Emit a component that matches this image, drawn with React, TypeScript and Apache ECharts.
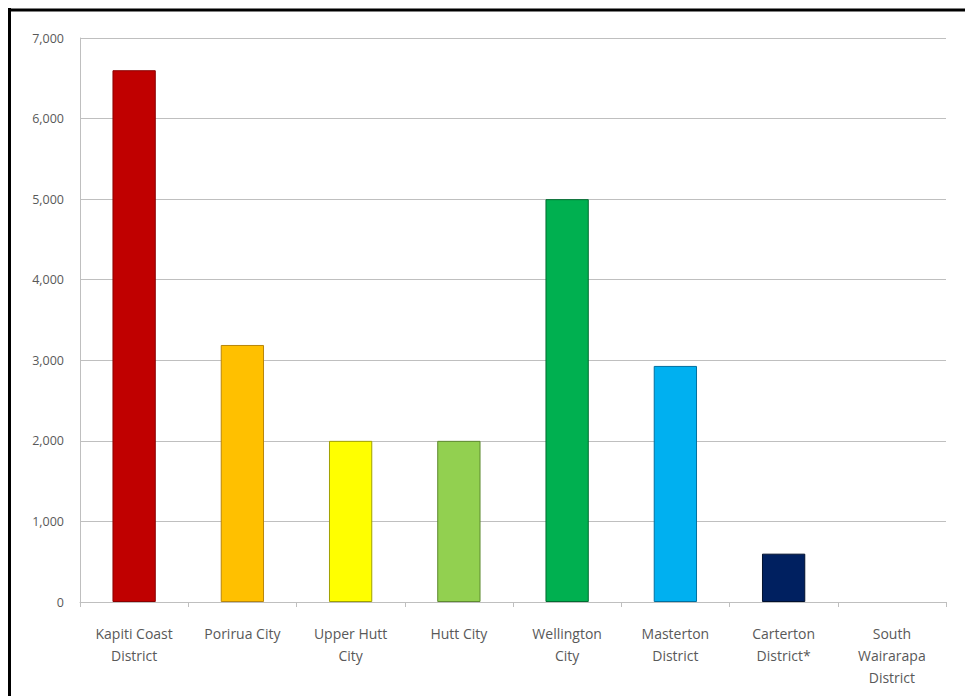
import React, { useEffect, useRef } from "react";
import * as echarts from "echarts";

const categories = [
  "Kapiti Coast\nDistrict",
  "Porirua City",
  "Upper Hutt\nCity",
  "Hutt City",
  "Wellington\nCity",
  "Masterton\nDistrict",
  "Carterton\nDistrict*",
  "South\nWairarapa\nDistrict",
];
const values = [6600, 3190, 2000, 2000, 5000, 2930, 600, 0];
const barColors = ["#C00000", "#FFC000", "#FFFF00", "#92D050", "#00B050", "#00B0F0", "#002060", "#7F7F7F"];
const borderColors = ["#8B0000", "#B8860B", "#A0A000", "#5E8A30", "#006B30", "#0070A0", "#00102E", "#555555"];

export default function App() {
  const ref = useRef<HTMLDivElement>(null);
  useEffect(() => {
    document.body.style.margin = "0";
    const chart = echarts.init(ref.current!, null, { renderer: "svg" });
    chart.setOption({
      animation: false,
      backgroundColor: "#ffffff",
      textStyle: { fontFamily: "Open Sans" },
      grid: { left: 80, right: 19, top: 38, bottom: 94 },
      graphic: [
        { type: "line", shape: { x1: 9.5, y1: 8, x2: 9.5, y2: 696 }, style: { stroke: "#000", lineWidth: 3 } },
        { type: "line", shape: { x1: 8, y1: 10, x2: 965, y2: 10 }, style: { stroke: "#000", lineWidth: 3 } },
      ],
      xAxis: {
        type: "category",
        data: categories,
        axisLine: { show: true, lineStyle: { color: "#BFBFBF", width: 1 } },
        axisTick: { show: true, length: 5, lineStyle: { color: "#BFBFBF" } },
        axisLabel: {
          color: "#595959",
          fontSize: 14,
          lineHeight: 22,
          margin: 20,
          interval: 0,
          fontFamily: "Open Sans",
        },
      },
      yAxis: {
        type: "value",
        min: 0,
        max: 7000,
        interval: 1000,
        axisLine: { show: true, lineStyle: { color: "#BFBFBF", width: 1 } },
        axisTick: { show: false },
        splitLine: { show: true, lineStyle: { color: "#BFBFBF", width: 1 } },
        axisLabel: {
          color: "#595959",
          fontSize: 12.5,
          margin: 16,
          fontFamily: "Open Sans",
          formatter: (v: number) => v.toLocaleString("en-US"),
        },
      },
      series: [
        {
          type: "bar",
          barWidth: "40%",
          data: values.map((v, i) => ({
            value: v,
            itemStyle: {
              color: barColors[i],
              borderColor: borderColors[i],
              borderWidth: v === 0 ? 0 : 1,
              opacity: v === 0 ? 0 : 1,
            },
          })),
        },
      ],
    });
    return () => chart.dispose();
  }, []);
  return <div ref={ref} style={{ position: "absolute", left: 0, top: 0, width: 965, height: 696 }} />;
}
